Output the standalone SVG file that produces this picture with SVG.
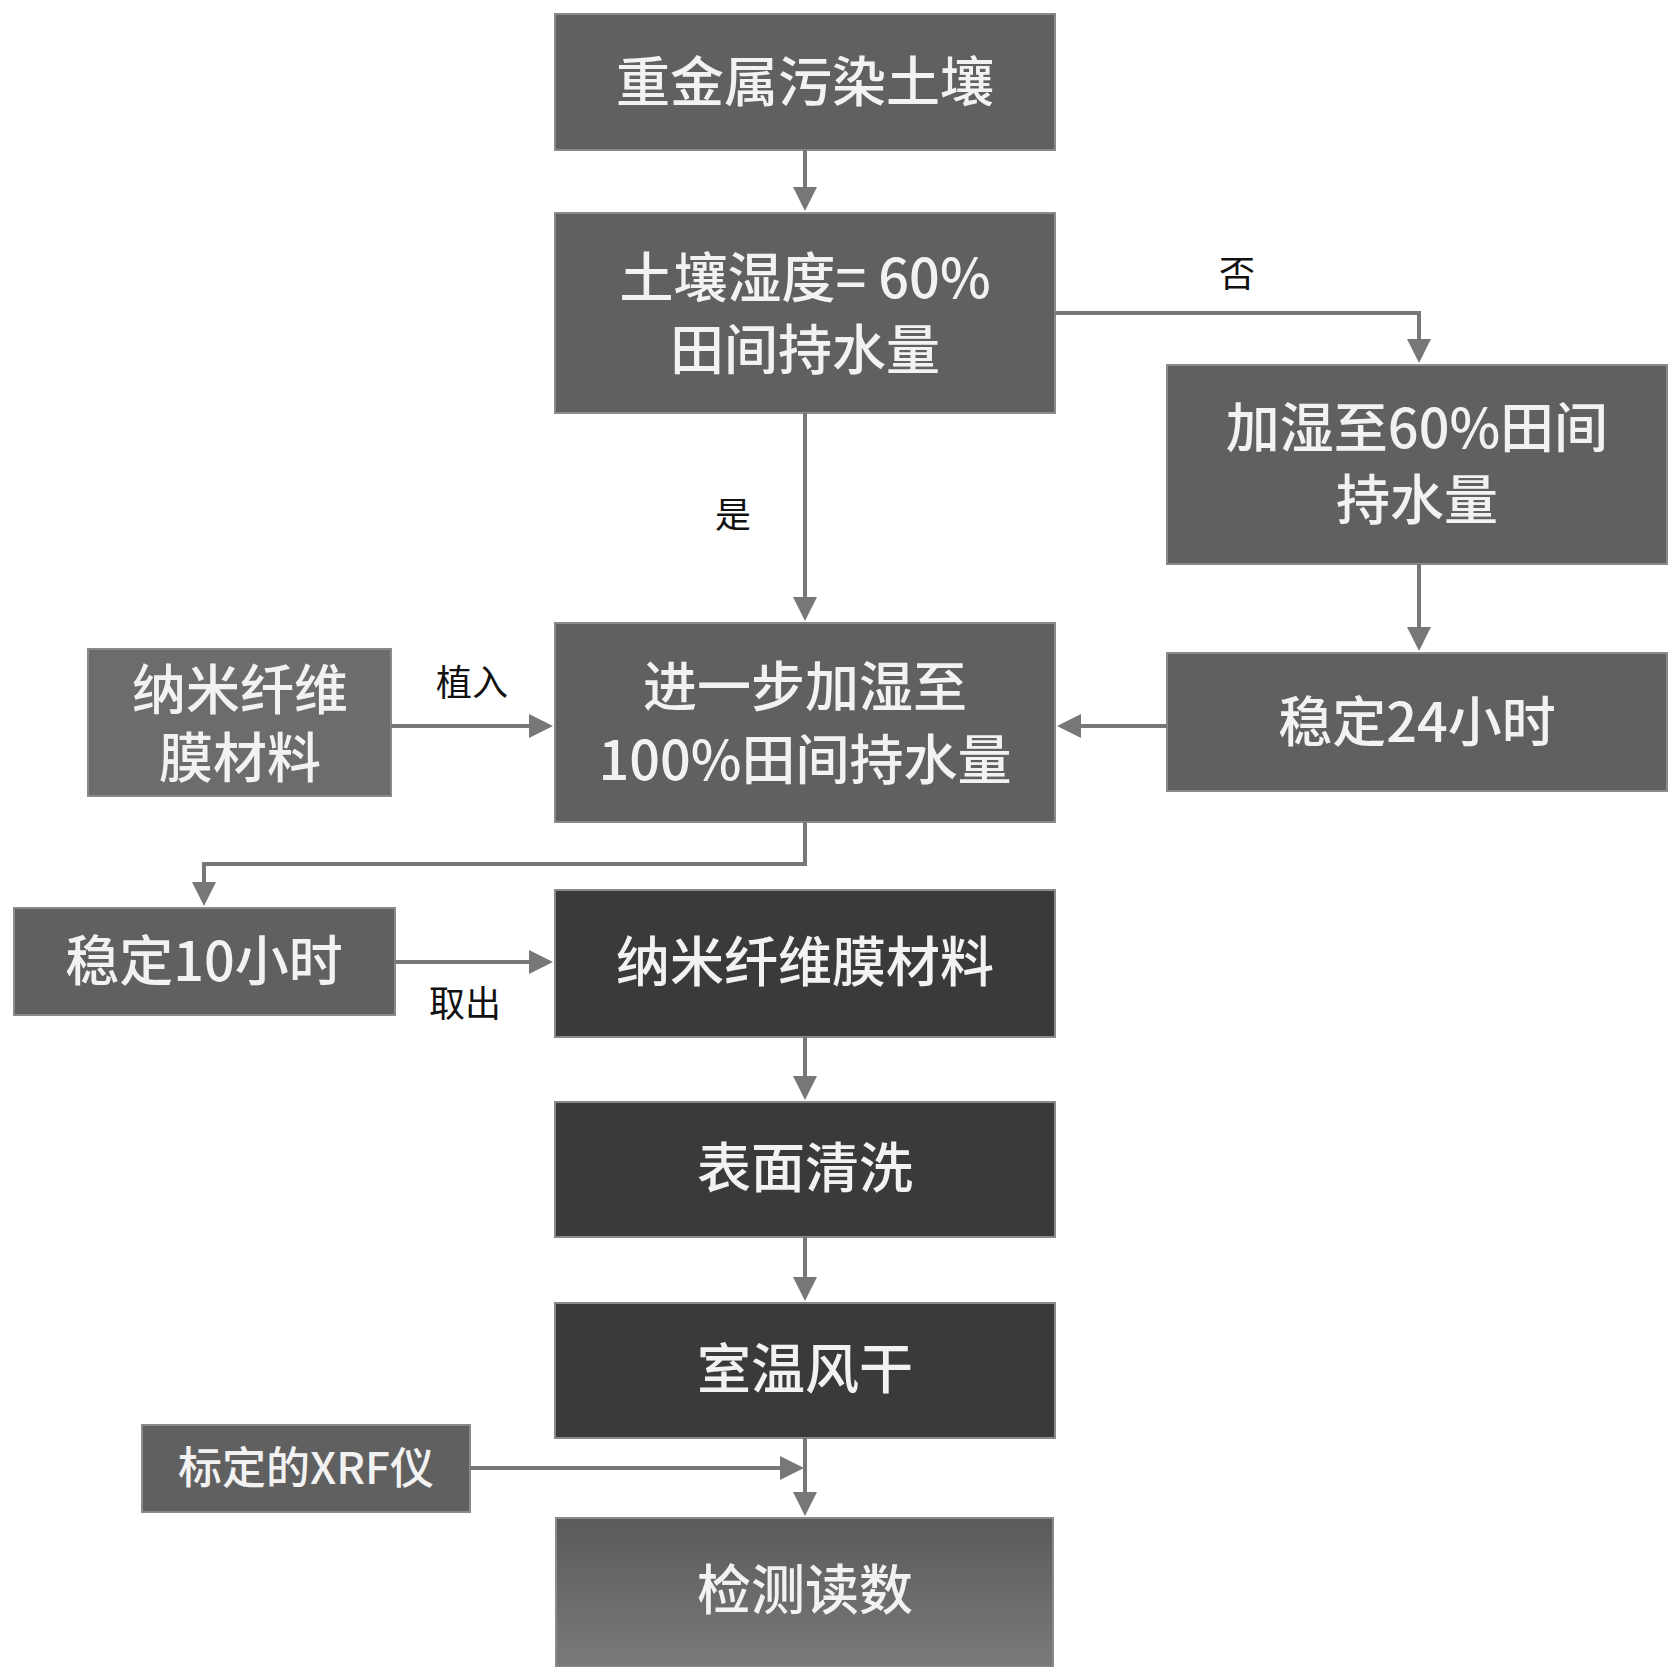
<svg xmlns="http://www.w3.org/2000/svg" width="1674" height="1667" viewBox="0 0 1674 1667">
<style>
.b{stroke:#8a8a8a;stroke-width:2}
.m{fill:#606060}.l{fill:#6c6c6c}.d{fill:#3a3a3a}
.t{fill:#f2f2f2;font-family:"Noto Sans CJK SC","Liberation Sans",sans-serif;font-size:54px;text-anchor:middle;font-weight:500}
.s{font-size:44px}
.lab{fill:#111;font-family:"Noto Sans CJK SC",sans-serif;font-size:36px;text-anchor:middle}
.c{fill:none;stroke:#777;stroke-width:4;marker-end:url(#a)}
</style>
<defs>
<marker id="a" markerWidth="6" markerHeight="6" refX="5" refY="3" orient="auto" markerUnits="strokeWidth"><path d="M0,0L6,3L0,6z" fill="#777"/></marker>
<linearGradient id="g" x1="0" y1="0" x2="0" y2="1"><stop offset="0" stop-color="#5a5a5a"/><stop offset="1" stop-color="#7a7a7a"/></linearGradient>
</defs>
<rect width="1674" height="1667" fill="#fff"/>
<g id="n1"><rect class="b m" x="555" y="14" width="500" height="136"/><text class="t" x="805" y="102">重金属污染土壤</text></g>
<g id="n2"><rect class="b m" x="555" y="213" width="500" height="200"/><text class="t" x="805" y="298">土壤湿度= 60%</text><text class="t" x="805" y="370">田间持水量</text></g>
<g id="n3"><rect class="b m" x="1167" y="365" width="500" height="199"/><text class="t" x="1417" y="448">加湿至60%田间</text><text class="t" x="1417" y="520">持水量</text></g>
<g id="n4"><rect class="b m" x="1167" y="653" width="500" height="138"/><text class="t" x="1417" y="742">稳定24小时</text></g>
<g id="n5"><rect class="b m" x="555" y="623" width="500" height="199"/><text class="t" x="805" y="707">进一步加湿至</text><text class="t" x="805" y="780">100%田间持水量</text></g>
<g id="n6"><rect class="b l" x="88" y="649" width="303" height="147"/><text class="t" x="240" y="710">纳米纤维</text><text class="t" x="240" y="778">膜材料</text></g>
<g id="n7"><rect class="b m" x="14" y="908" width="381" height="107"/><text class="t" x="204" y="981">稳定10小时</text></g>
<g id="n8"><rect class="b d" x="555" y="890" width="500" height="147"/><text class="t" x="805" y="982">纳米纤维膜材料</text></g>
<g id="n9"><rect class="b d" x="555" y="1102" width="500" height="135"/><text class="t" x="805" y="1188">表面清洗</text></g>
<g id="n10"><rect class="b d" x="555" y="1303" width="500" height="135"/><text class="t" x="805" y="1389">室温风干</text></g>
<g id="n11"><rect class="b m" x="142" y="1425" width="328" height="87"/><text class="t s" x="306" y="1484">标定的XRF仪</text></g>
<g id="n12"><rect class="b" fill="url(#g)" x="556" y="1518" width="497" height="149"/><text class="t" x="805" y="1610">检测读数</text></g>
<g id="connectors">
<path class="c" d="M805,150V207"/>
<path class="c" d="M1055,313H1419V359"/>
<path class="c" d="M805,413V617"/>
<path class="c" d="M1419,564V647"/>
<path class="c" d="M1167,726H1061"/>
<path class="c" d="M391,726H549"/>
<path class="c" d="M805,822V864H204V902"/>
<path class="c" d="M395,962H549"/>
<path class="c" d="M805,1037V1096"/>
<path class="c" d="M805,1237V1297"/>
<path class="c" d="M805,1438V1512"/>
<path class="c" d="M470,1468H800"/>
<text class="lab" x="1237" y="287">否</text>
<text class="lab" x="733" y="528">是</text>
<text class="lab" x="472" y="696">植入</text>
<text class="lab" x="465" y="1017">取出</text>
</g>
</svg>
